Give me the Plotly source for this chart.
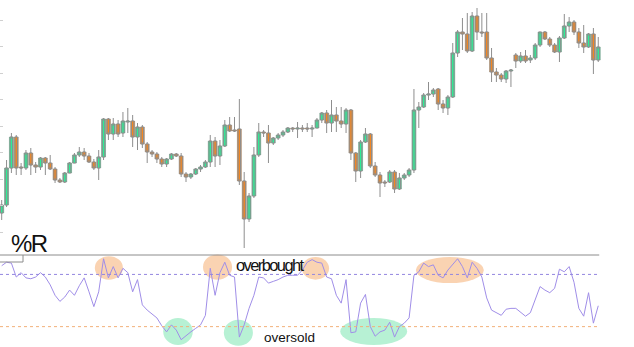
import plotly.graph_objects as go

# ---------------- data ----------------
bar_index = list(range(124))

opens = [37, 45, 82, 113, 83, 82, 97, 85, 83, 92, 87, 81, 70, 68, 77, 87, 95, 98, 94, 88,
         82, 93, 131, 116, 126, 117, 128, 129, 113, 123, 106, 98, 96, 91, 86, 91, 96, 94, 76, 73,
         76, 81, 83, 88, 109, 94, 104, 125, 120, 121, 69, 31, 54, 95, 118, 117, 107, 112, 115, 118,
         122, 121, 122, 122, 121, 122, 130, 137, 127, 135, 129, 126, 140, 97, 79, 108, 116, 84, 75, 68,
         68, 78, 61, 72, 75, 80, 140, 143, 155, 156, 161, 146, 142, 153, 197, 218, 216, 199, 234, 218,
         218, 192, 178, 175, 171, 179, 195, 189, 194, 190, 192, 205, 218, 211, 205, 198, 212, 224, 228, 218,
         207, 203, 216, 190]
highs = [50, 90, 117, 115, 87, 100, 102, 88, 93, 93, 95, 83, 72, 78, 88, 97, 103, 102, 97, 91,
         100, 132, 132, 132, 130, 138, 142, 135, 127, 125, 108, 100, 98, 93, 92, 97, 97, 97, 78, 77,
         82, 85, 90, 115, 113, 110, 130, 133, 133, 151, 78, 57, 103, 127, 120, 125, 113, 117, 120, 123,
         123, 128, 125, 127, 125, 132, 138, 140, 150, 143, 143, 142, 141, 98, 110, 122, 117, 88, 78, 70,
         80, 80, 77, 77, 82, 161, 148, 157, 168, 162, 162, 150, 155, 207, 220, 232, 237, 238, 242, 237,
         237, 202, 182, 177, 180, 181, 197, 198, 200, 195, 207, 218, 219, 213, 207, 214, 236, 233, 230, 222,
         225, 217, 222, 213]
lows = [30, 43, 77, 75, 75, 80, 75, 77, 80, 75, 80, 67, 67, 67, 77, 87, 93, 90, 87, 80,
        70, 90, 110, 110, 113, 113, 117, 103, 100, 102, 87, 93, 87, 83, 83, 90, 93, 73, 68, 71,
        75, 78, 82, 83, 83, 85, 103, 118, 118, 65, 2, 28, 52, 93, 113, 87, 105, 110, 113, 117,
        118, 112, 118, 118, 113, 122, 127, 117, 118, 118, 122, 117, 90, 68, 72, 107, 82, 73, 53, 63,
        67, 57, 60, 70, 73, 77, 122, 142, 150, 153, 140, 137, 135, 152, 193, 200, 197, 198, 210, 213,
        190, 168, 168, 168, 167, 163, 182, 187, 187, 187, 190, 203, 210, 203, 197, 188, 211, 218, 215, 202,
        197, 202, 176, 188]
closes = [45, 82, 113, 82, 82, 97, 85, 83, 92, 87, 81, 70, 68, 77, 87, 95, 98, 94, 88, 82,
          93, 131, 116, 126, 116, 129, 129, 113, 123, 106, 98, 96, 91, 86, 91, 96, 94, 76, 73, 76,
          81, 83, 88, 109, 94, 104, 125, 119, 119, 69, 31, 54, 95, 118, 117, 107, 112, 115, 118, 122,
          121, 122, 121, 121, 122, 130, 137, 127, 135, 129, 126, 140, 97, 79, 108, 116, 84, 75, 67, 67,
          78, 61, 72, 75, 80, 140, 143, 155, 156, 160, 146, 142, 153, 197, 218, 216, 199, 234, 218, 217,
          192, 178, 175, 171, 179, 180, 189, 194, 189, 192, 205, 218, 211, 205, 198, 212, 224, 228, 218, 207,
          203, 216, 190, 203]

williams_r = [-10, -6, -7, -23, -18, -24, -25, -23, -18, -23, -32, -44, -51, -46, -38, -44, -33, -24, -40, -57,
              -40, -2, -24, -11, -24, -13, -18, -40, -26, -55, -61, -66, -70, -79, -86, -78, -84, -95, -90, -86,
              -82, -78, -67, -13, -44, -18, -6, -21, -23, -92, -78, -59, -44, -23, -24, -30, -28, -26, -23, -21,
              -21, -21, -15, -6, -3, -6, -7, -23, -25, -44, -53, -26, -87, -86, -53, -43, -80, -91, -86, -84,
              -75, -92, -80, -76, -70, -21, -17, -7, -11, -9, -21, -24, -15, -9, -2, -11, -24, -6, -13, -23,
              -47, -61, -64, -67, -60, -59, -59, -63, -68, -64, -49, -34, -38, -41, -36, -14, -17, -11, -29, -59,
              -68, -41, -76, -56]

OVERBOUGHT = -20
OVERSOLD = -80

# highlighted zones: (first bar, last bar, top %R, bottom %R)
overbought_zones = [(19.2, 25.0, 1, -26), (41.5, 47.5, 3, -26), (61.9, 67.5, 0, -26), (85.4, 99.4, 0, -30)]
oversold_zones = [(33.3, 39.4, -70, -101), (45.8, 51.8, -72, -102), (69.8, 83.6, -70, -101)]

# ---------------- figure ----------------
W, H = 634, 347
X_RANGE = [-0.35, 130.37]
LAST_X = 123.2
UP, DOWN, EDGE = "#2cee96", "#f38722", "#7a7a7a"

body_base = [min(o, c) for o, c in zip(opens, closes)]
body_len = [max(abs(c - o), 1) for o, c in zip(opens, closes)]
body_col = [UP if c >= o else DOWN for o, c in zip(opens, closes)]

fig = go.Figure()

# wicks
fig.add_trace(go.Candlestick(
    x=bar_index, open=opens, high=highs, low=lows, close=closes,
    increasing=dict(fillcolor=UP, line=dict(color="#8e8e8e", width=1)),
    decreasing=dict(fillcolor=DOWN, line=dict(color="#8e8e8e", width=1)),
    whiskerwidth=0, showlegend=False, hoverinfo="skip",
    xaxis="x", yaxis="y",
))
# bodies
fig.add_trace(go.Bar(
    x=bar_index, y=body_len, base=body_base, width=0.82,
    marker=dict(color=body_col, line=dict(color=EDGE, width=0.5)),
    showlegend=False, hoverinfo="skip", xaxis="x", yaxis="y",
))

fig.add_trace(go.Scatter(
    x=bar_index, y=williams_r, mode="lines",
    line=dict(color="#a08ee8", width=1),
    showlegend=False, hoverinfo="skip",
    xaxis="x", yaxis="y2",
))

shapes = []
for x0, x1, y0, y1 in overbought_zones:
    shapes.append(dict(type="circle", xref="x", yref="y2", x0=x0, x1=x1, y0=y0, y1=y1,
                       fillcolor="#f9ceaa", line=dict(width=0), layer="below", opacity=0.9))
for x0, x1, y0, y1 in oversold_zones:
    shapes.append(dict(type="circle", xref="x", yref="y2", x0=x0, x1=x1, y0=y0, y1=y1,
                       fillcolor="#aff0cf", line=dict(width=0), layer="below", opacity=0.9))

# level lines
shapes.append(dict(type="line", xref="x", yref="y2", x0=X_RANGE[0], x1=LAST_X,
                   y0=OVERBOUGHT, y1=OVERBOUGHT, line=dict(color="#9385e0", width=1, dash="dot")))
shapes.append(dict(type="line", xref="x", yref="y2", x0=X_RANGE[0], x1=LAST_X,
                   y0=OVERSOLD, y1=OVERSOLD, line=dict(color="#f2b07a", width=1, dash="dot")))
# panel separator and label tab
sep_y = (H - 255) / H
tab_y = (H - 262) / H
shapes.append(dict(type="line", xref="x", yref="paper", x0=X_RANGE[0], x1=LAST_X,
                   y0=sep_y, y1=sep_y, line=dict(color="#8c8c8c", width=1)))
shapes.append(dict(type="path", xref="paper", yref="paper",
                   path=f"M 0 {tab_y} L {23 / W} {tab_y} L {23 / W} {sep_y}",
                   line=dict(color="#8c8c8c", width=1)))

annotations = [
    dict(text='<span style="letter-spacing:-1.5px">%R</span>', xref="paper", yref="paper",
         x=9 / W, y=(H - 243) / H,
         xanchor="left", yanchor="middle", showarrow=False,
         font=dict(family="Liberation Sans, Arial", size=24, color="#111")),
    dict(text='<span style="letter-spacing:-1.6px">overbought</span>', xref="paper", yref="paper",
         x=234 / W, y=(H - 265) / H,
         xanchor="left", yanchor="middle", showarrow=False,
         font=dict(family="Liberation Sans, Arial", size=16.5, color="#111")),
    dict(text="oversold", xref="paper", yref="paper", x=262 / W, y=(H - 337) / H,
         xanchor="left", yanchor="middle", showarrow=False,
         font=dict(family="Liberation Sans, Arial", size=13.5, color="#111")),
]

fig.update_layout(
    width=W, height=H,
    margin=dict(l=0, r=0, t=0, b=0),
    paper_bgcolor="white", plot_bgcolor="white",
    shapes=shapes, annotations=annotations,
    barmode="overlay",
    xaxis=dict(range=X_RANGE, visible=False, rangeslider=dict(visible=False), fixedrange=True),
    yaxis=dict(domain=[0, 1], range=[-97, 250], showgrid=False, zeroline=False,
               showticklabels=False, ticks="inside", ticklen=3, tickcolor="#d0d0d0",
               tick0=230, dtick=26.5, showline=False),
    yaxis2=dict(domain=[0, 97 / H], range=[-103.4, 8.05], anchor="x", visible=False),
)

fig.write_html("out.html")
